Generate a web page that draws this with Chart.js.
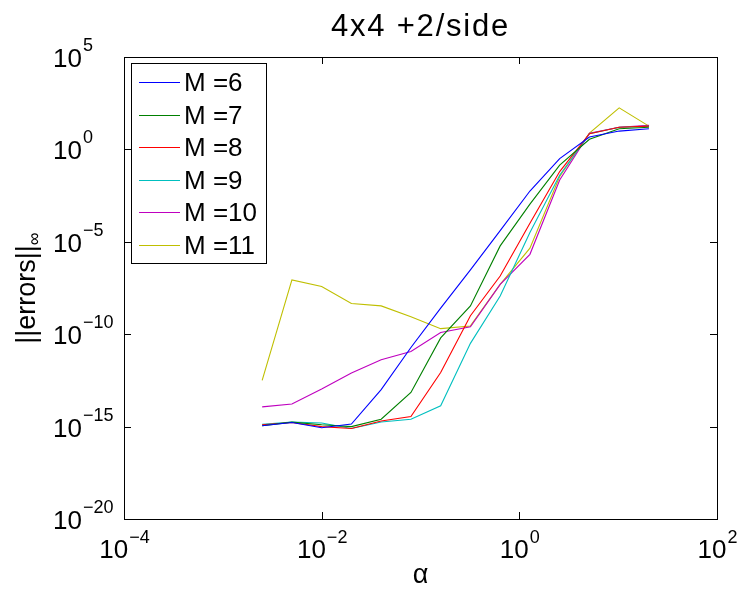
<!DOCTYPE html>
<html>
<head>
<meta charset="utf-8">
<script src="https://cdn.jsdelivr.net/npm/chart.js@4.4.1/dist/chart.umd.min.js"></script>
<style>
  html, body { margin: 0; padding: 0; background: #fff; }
  canvas { display: block; }
</style>
</head>
<body>
<canvas id="chart" width="741" height="590"></canvas>
<script>
// alpha values (x axis)
const alphas = [0.0025, 0.005, 0.01, 0.02, 0.04, 0.08, 0.16, 0.32, 0.64, 1.28, 2.56, 5.12, 10.24, 20.48];

// ||errors||_inf for each M
const errM6  = [1.12e-15, 1.66e-15, 8.7e-16, 1.38e-15, 1.0e-13, 1.9e-11, 2.6e-9, 3.0e-7, 4.0e-5, 5.6e-3, 0.32, 4.7, 9.8, 13.2];
const errM7  = [1.12e-15, 1.74e-15, 1.26e-15, 1.0e-15, 2.5e-15, 7.1e-14, 6.3e-11, 3.4e-9, 6.0e-6, 1.1e-3, 0.14, 3.5, 13.2, 15.8];
const errM8  = [1.26e-15, 1.66e-15, 1.0e-15, 7.9e-16, 2.0e-15, 3.5e-15, 8.5e-13, 1.0e-9, 1.4e-7, 1.0e-4, 0.063, 7.1, 15.8, 18.2];
const errM9  = [1.32e-15, 1.78e-15, 1.58e-15, 7.9e-16, 1.78e-15, 2.5e-15, 1.35e-14, 3.2e-11, 1.17e-8, 3.2e-5, 0.04, 7.1, 15.8, 18.2];
const errM10 = [1.17e-14, 1.66e-14, 1.07e-13, 7.9e-13, 4.1e-12, 1.15e-11, 1.23e-10, 2.5e-10, 5.0e-8, 2.1e-6, 0.022, 7.6, 15.8, 20];
const errM11 = [3.2e-13, 8.7e-8, 3.8e-8, 4.6e-9, 3.4e-9, 8.7e-10, 2.0e-10, 2.8e-10, 5.0e-8, 4.5e-6, 0.034, 7.6, 178, 18.2];

const seriesLabels = ['M =6', 'M =7', 'M =8', 'M =9', 'M =10', 'M =11'];
const seriesColors = ['#0000ff', '#008000', '#ff0000', '#00bfbf', '#bf00bf', '#bfbf00'];
const allSeries = [errM6, errM7, errM8, errM9, errM10, errM11];

const xTickExps = [-4, -2, 0, 2];
const yTickExps = [5, 0, -5, -10, -15, -20];

const FONT = '"Liberation Sans", Arial, Helvetica, sans-serif';

function supText(n) {
  return n < 0 ? '\u2212' + Math.abs(n) : String(n);
}

// MATLAB-like frame, tick marks, labels and legend
const matlabAxes = {
  id: 'matlabAxes',
  beforeDraw(chart) {
    const ctx = chart.ctx;
    ctx.save();
    ctx.fillStyle = '#fff';
    ctx.fillRect(0, 0, chart.width, chart.height);
    ctx.restore();
  },
  afterDatasetsDraw(chart) {
    const ctx = chart.ctx;
    const area = chart.chartArea;
    const xs = chart.scales.x;
    const ys = chart.scales.y;
    ctx.save();

    // frame
    ctx.strokeStyle = '#000';
    ctx.lineWidth = 1;
    ctx.strokeRect(Math.round(area.left) + 0.5, Math.round(area.top) + 0.5,
      Math.round(area.right - area.left), Math.round(area.bottom - area.top));

    const tl = 7;
    ctx.beginPath();
    xTickExps.forEach(e => {
      const px = Math.round(xs.getPixelForValue(Math.pow(10, e))) + 0.5;
      ctx.moveTo(px, area.bottom); ctx.lineTo(px, area.bottom - tl);
      ctx.moveTo(px, area.top); ctx.lineTo(px, area.top + tl);
    });
    yTickExps.forEach(e => {
      const py = Math.round(ys.getPixelForValue(Math.pow(10, e))) + 0.5;
      ctx.moveTo(area.left, py); ctx.lineTo(area.left + tl, py);
      ctx.moveTo(area.right, py); ctx.lineTo(area.right - tl, py);
    });
    ctx.stroke();

    // tick labels
    const big = '26px ' + FONT;
    const small = '18px ' + FONT;
    ctx.fillStyle = '#000';
    ctx.textBaseline = 'alphabetic';
    ctx.textAlign = 'left';
    xTickExps.forEach(e => {
      const px = xs.getPixelForValue(Math.pow(10, e));
      ctx.font = big;
      const w1 = ctx.measureText('10').width;
      ctx.font = small;
      const w2 = ctx.measureText(supText(e)).width;
      const x0 = px - (w1 + w2) / 2;
      ctx.font = big;
      ctx.fillText('10', x0, 558);
      ctx.font = small;
      ctx.fillText(supText(e), x0 + w1 + 1, 543);
    });
    yTickExps.forEach(e => {
      const py = ys.getPixelForValue(Math.pow(10, e));
      ctx.font = big;
      const w1 = ctx.measureText('10').width;
      ctx.fillText('10', 53, py + 10);
      ctx.font = small;
      ctx.fillText(supText(e), 53 + w1 + 1, py - 6);
    });

    // title
    ctx.textAlign = 'center';
    ctx.font = '31px ' + FONT;
    ctx.letterSpacing = '1.8px';
    ctx.fillText('4x4 +2/side', (area.left + area.right) / 2, 36);
    ctx.letterSpacing = '0px';

    // x label
    ctx.font = '27px ' + FONT;
    ctx.fillText('\u03b1', (area.left + area.right) / 2, 583);

    // y label, rotated, with subscript infinity
    ctx.font = '27px ' + FONT;
    const wMain = ctx.measureText('||errors||').width;
    ctx.font = '18px ' + FONT;
    const wSub = ctx.measureText('\u221e').width;
    ctx.translate(35, (area.top + area.bottom) / 2);
    ctx.rotate(-Math.PI / 2);
    ctx.textAlign = 'left';
    const sx = -(wMain + wSub) / 2;
    ctx.font = '27px ' + FONT;
    ctx.fillText('||errors||', sx, 0);
    ctx.font = '18px ' + FONT;
    ctx.fillText('\u221e', sx + wMain, 5);
    ctx.setTransform(1, 0, 0, 1, 0, 0);

    // legend box
    const lx = 131.5, ly = 63.5, lw = 135, lh = 200;
    ctx.fillStyle = '#fff';
    ctx.fillRect(lx, ly, lw, lh);
    ctx.strokeStyle = '#000';
    ctx.strokeRect(lx, ly, lw, lh);
    ctx.font = '26px ' + FONT;
    ctx.textBaseline = 'middle';
    ctx.textAlign = 'left';
    chart.data.datasets.forEach((ds, i) => {
      const ry = Math.round(82 + i * 32.6) + 0.5;
      ctx.strokeStyle = ds.borderColor;
      ctx.lineWidth = 1;
      ctx.beginPath();
      ctx.moveTo(139, ry);
      ctx.lineTo(180, ry);
      ctx.stroke();
      ctx.fillStyle = '#000';
      ctx.fillText(ds.label, 184, ry + 1);
    });

    ctx.restore();
  }
};

const datasets = allSeries.map((vals, i) => ({
  label: seriesLabels[i],
  data: vals.map((v, j) => ({ x: alphas[j], y: v })),
  borderColor: seriesColors[i],
  backgroundColor: seriesColors[i],
  borderWidth: 1.1,
  pointRadius: 0,
  tension: 0,
  fill: false,
}));

new Chart(document.getElementById('chart').getContext('2d'), {
  type: 'line',
  data: { datasets },
  options: {
    responsive: false,
    animation: false,
    devicePixelRatio: 1,
    layout: { padding: { left: 124, right: 24, top: 57, bottom: 71 } },
    plugins: {
      legend: { display: false },
      tooltip: { enabled: false },
    },
    scales: {
      x: { type: 'logarithmic', min: 1e-4, max: 1e2, display: false },
      y: { type: 'logarithmic', min: 1e-20, max: 1e5, display: false },
    },
  },
  plugins: [matlabAxes],
});
</script>
</body>
</html>
